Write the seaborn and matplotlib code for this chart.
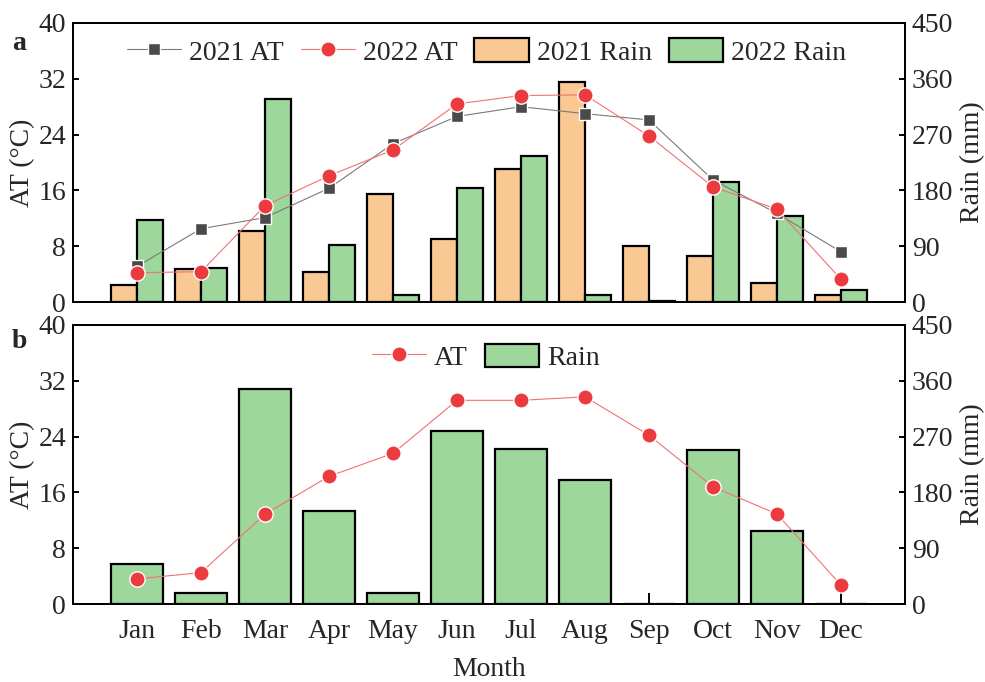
import numpy as np
import pandas as pd
import matplotlib
matplotlib.use("Agg")
import matplotlib.pyplot as plt
import seaborn as sns
from matplotlib.lines import Line2D
from matplotlib.patches import Patch

# ---- data ----
months = ["Jan", "Feb", "Mar", "Apr", "May", "Jun",
          "Jul", "Aug", "Sep", "Oct", "Nov", "Dec"]

# panel a
at_2021 = [5.1, 10.5, 12.1, 16.3, 22.7, 26.6, 28.0, 27.0, 26.1, 17.5, 12.7, 7.2]
at_2022 = [4.2, 4.35, 13.8, 18.1, 21.8, 28.4, 29.6, 29.7, 23.8, 16.5, 13.3, 3.25]
rain_2021 = [27, 54, 115, 48, 174, 102, 214, 355, 91, 74, 30, 12]
rain_2022 = [132, 55, 328, 92, 11, 184, 235, 12, 1, 194, 139, 19]

# panel b
at_b = [3.6, 4.5, 12.9, 18.3, 21.6, 29.2, 29.2, 29.7, 24.2, 16.8, 12.9, 2.7]
rain_b = [64, 18, 347, 150, 18, 279, 250, 200, 0.5, 248, 118, 0]

at_ticks = [0, 8, 16, 24, 32, 40]
rain_ticks = [0, 90, 180, 270, 360, 450]

# ---- style ----
ORANGE = "#F9C893"
GREEN = "#9DD79B"
RED = "#EC3B3E"
RED_LINE = "#F27173"
GREY = "#4A4A4A"
GREY_LINE = "#7A7A7A"
FS = 20
SPINE_W = 1.4
BAR_EW = 1.6

sns.set_theme(style="ticks")
plt.rcParams["font.family"] = ["Liberation Serif", "DejaVu Serif"]
plt.rcParams["font.size"] = FS

fig = plt.figure(figsize=(9.85, 6.82), dpi=100)

L, W, H = 73 / 985, 832 / 985, 279 / 682
ax_top = fig.add_axes([L, 1 - 302 / 682, W, H])
ax_bot = fig.add_axes([L, 1 - 604 / 682, W, H])


def setup_panel(ax_r):
    """ax_r holds rain bars (right y-axis); returns twin axes for AT (left y-axis)."""
    ax_t = ax_r.twinx()
    ax_t.yaxis.tick_left()
    ax_t.yaxis.set_label_position("left")
    ax_r.yaxis.tick_right()
    ax_r.yaxis.set_label_position("right")
    return ax_t


def finish_panel(ax_r, ax_t, show_xlabels):
    ax_r.set_xlim(-1, len(months))
    ax_r.set_ylim(rain_ticks[0], rain_ticks[-1])
    ax_r.set_yticks(rain_ticks)
    ax_t.set_ylim(at_ticks[0], at_ticks[-1])
    ax_t.set_yticks(at_ticks)
    ax_r.set_xticks(range(len(months)))
    ax_r.set_xticklabels(months if show_xlabels else [])
    ax_r.tick_params(axis="x", direction="in", length=8, width=SPINE_W,
                     pad=11, labelsize=FS, labelbottom=show_xlabels, color="black")
    ax_r.tick_params(axis="y", direction="in", length=4, width=SPINE_W,
                     pad=5, labelsize=FS, color="black")
    ax_t.tick_params(axis="y", direction="in", length=4, width=SPINE_W,
                     pad=5, labelsize=FS, color="black")
    ax_t.set_ylabel("AT (\u00b0C)", fontsize=FS)
    ax_r.set_ylabel("Rain (mm)", fontsize=FS)
    ax_t.yaxis.set_label_coords(-0.045, 0.5)
    ax_r.yaxis.set_label_coords(1.066, 0.5)
    for a in (ax_r, ax_t):
        for sp in a.spines.values():
            sp.set_linewidth(SPINE_W)
            sp.set_color("black")
            sp.set_visible(True)
    if show_xlabels:
        ax_r.set_xlabel("Month", fontsize=FS, labelpad=9)
    else:
        ax_r.set_xlabel("")


line_kw = dict(linewidth=0.8, markeredgecolor="white", markeredgewidth=1.0)
leg_kw = dict(frameon=False, fontsize=FS, handlelength=1.95, handleheight=0.9,
              handletextpad=0.3, columnspacing=0.6, borderaxespad=0)

# ---- panel a ----
ax_ta = setup_panel(ax_top)
df_a = pd.DataFrame({
    "Month": months * 2,
    "Rain": rain_2021 + rain_2022,
    "Year": ["2021 Rain"] * len(months) + ["2022 Rain"] * len(months),
})
sns.barplot(data=df_a, x="Month", y="Rain", hue="Year", order=months,
            hue_order=["2021 Rain", "2022 Rain"], palette=[ORANGE, GREEN],
            saturation=1, edgecolor="black", linewidth=BAR_EW, width=0.8,
            errorbar=None, legend=False, ax=ax_top, zorder=3)
xpos = np.arange(len(months))
sns.lineplot(x=xpos, y=at_2021, ax=ax_ta, color=GREY_LINE, marker="s",
             markersize=9, markerfacecolor=GREY, **line_kw)
sns.lineplot(x=xpos, y=at_2022, ax=ax_ta, color=RED_LINE, marker="o",
             markersize=11, markerfacecolor=RED, **line_kw)
finish_panel(ax_top, ax_ta, False)

handles_a = [
    Line2D([], [], color=GREY_LINE, marker="s", markersize=9,
           markerfacecolor=GREY, **line_kw),
    Line2D([], [], color=RED_LINE, marker="o", markersize=11,
           markerfacecolor=RED, **line_kw),
    Patch(facecolor=ORANGE, edgecolor="black", linewidth=BAR_EW),
    Patch(facecolor=GREEN, edgecolor="black", linewidth=BAR_EW),
]
ax_ta.legend(handles_a, ["2021 AT", "2022 AT", "2021 Rain", "2022 Rain"],
             ncol=4, loc="center", bbox_to_anchor=(0.497, 0.896), **leg_kw)

# ---- panel b ----
ax_tb = setup_panel(ax_bot)
df_b = pd.DataFrame({"Month": months, "Rain": rain_b})
sns.barplot(data=df_b, x="Month", y="Rain", order=months, color=GREEN,
            saturation=1, edgecolor="black", linewidth=BAR_EW, width=0.8,
            errorbar=None, ax=ax_bot, zorder=3)
sns.lineplot(x=xpos, y=at_b, ax=ax_tb, color=RED_LINE, marker="o",
             markersize=11, markerfacecolor=RED, **line_kw)
finish_panel(ax_bot, ax_tb, True)

handles_b = [
    Line2D([], [], color=RED_LINE, marker="o", markersize=11,
           markerfacecolor=RED, **line_kw),
    Patch(facecolor=GREEN, edgecolor="black", linewidth=BAR_EW),
]
ax_tb.legend(handles_b, ["AT", "Rain"], ncol=2, loc="center",
             bbox_to_anchor=(0.496, 0.885), **leg_kw)

# panel letters
fig.text(19 / 985, 1 - 43 / 682, "a", fontsize=FS, fontweight="bold",
         ha="center", va="center")
fig.text(19 / 985, 1 - 342 / 682, "b", fontsize=FS, fontweight="bold",
         ha="center", va="center")

fig.savefig("out.png", dpi=100)
